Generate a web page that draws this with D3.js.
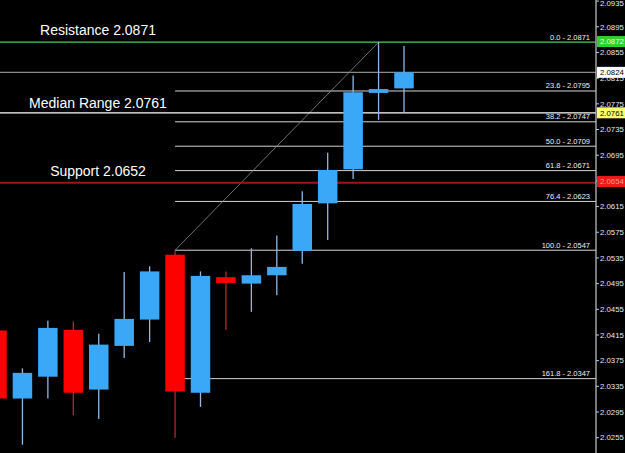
<!DOCTYPE html>
<html>
<head>
<meta charset="utf-8">
<script src="https://cdn.jsdelivr.net/npm/d3@7"></script>
<style>
  html, body { margin: 0; padding: 0; background: #000; }
  svg { display: block; }
  .lbl { font-family: Arial, "Liberation Sans", sans-serif; }
</style>
</head>
<body>
<svg id="chart" width="625" height="453"></svg>
<script>
const width = 625;
const height = 453;
const axis_x = 596; // right price axis

// candles, oldest first
const opens  = [2.0422, 2.0316, 2.0350, 2.0423, 2.0330, 2.0398, 2.0439, 2.0540, 2.0325, 2.0505, 2.0495, 2.0508, 2.0546, 2.0620, 2.0673, 2.0792, 2.0799];
const highs  = [2.0430, 2.0363, 2.0437, 2.0436, 2.0417, 2.0513, 2.0522, 2.0547, 2.0514, 2.0514, 2.0550, 2.0570, 2.0639, 2.0699, 2.0819, 2.0871, 2.0865];
const lows   = [2.0300, 2.0244, 2.0316, 2.0290, 2.0284, 2.0379, 2.0404, 2.0255, 2.0303, 2.0423, 2.0451, 2.0477, 2.0526, 2.0563, 2.0658, 2.0750, 2.0761];
const closes = [2.0316, 2.0356, 2.0426, 2.0325, 2.0400, 2.0440, 2.0514, 2.0327, 2.0507, 2.0496, 2.0508, 2.0521, 2.0619, 2.0672, 2.0793, 2.0798, 2.0824];

// fibonacci retracement, drawn from candle 7 to candle 15
const fibLevels = ["0.0", "23.6", "38.2", "50.0", "61.8", "76.4", "100.0", "161.8"];
const fibPrices = [2.0871, 2.0795, 2.0747, 2.0709, 2.0671, 2.0623, 2.0547, 2.0347];
const fibFrom = 7;
const fibTo = 15;

const priceTicks = [2.0935, 2.0895, 2.0855, 2.0815, 2.0775, 2.0735, 2.0695, 2.0655, 2.0615,
                    2.0575, 2.0535, 2.0495, 2.0455, 2.0415, 2.0375, 2.0335, 2.0295, 2.0255];

const levelNames  = ["Resistance", "Median Range", "Support"];
const levelPrices = [2.0871, 2.0761, 2.0652];

const bidPrice = 2.0824;
const tagPrices = [2.0872, 2.0824, 2.0761, 2.0654];
const tagFills  = ["#2fd12f", "#ffffff", "#ffff70", "#f01818"];
const tagTexts  = ["#eaffea", "#000000", "#000000", "#ff9a9a"];

const svg = d3.select("#chart");
svg.append("rect").attr("width", width).attr("height", height).attr("fill", "#000");

const x = d3.scaleLinear().domain([0, opens.length - 1]).range([-3, 404]);
const y = d3.scaleLinear().domain([2.0255, 2.0935]).range([437.7, 1.1]);
const bodyW = 19.5;

const plot = svg.append("g");

// bid line
plot.append("line")
    .attr("x1", 0).attr("x2", axis_x)
    .attr("y1", y(bidPrice)).attr("y2", y(bidPrice))
    .attr("stroke", "#8a8a8a").attr("stroke-width", 1.2);

// fib lines
const fibX0 = x(fibFrom);
fibPrices.forEach((p, i) => {
    if (i === 0) { return; }
    plot.append("line")
        .attr("x1", fibX0).attr("x2", axis_x)
        .attr("y1", y(p)).attr("y2", y(p))
        .attr("stroke", "#d4d4d4").attr("stroke-width", 1);
});

// trend line of the fib
plot.append("line")
    .attr("x1", fibX0).attr("y1", y(fibPrices[6]))
    .attr("x2", x(fibTo)).attr("y2", y(fibPrices[0]))
    .attr("stroke", "#8c8c8c").attr("stroke-width", 0.8);

// resistance / median / support lines
const levelColors = ["#4fcf4f", "#ffffff", "#a31414"];
const levelWidths = [1.3, 1.2, 2];
levelPrices.forEach((p, i) => {
    plot.append("line")
        .attr("x1", 0).attr("x2", axis_x)
        .attr("y1", y(p)).attr("y2", y(p))
        .attr("stroke", levelColors[i]).attr("stroke-width", levelWidths[i]);
});

// fib text
plot.selectAll(".fib-label")
    .data(fibLevels)
    .join("text")
    .classed("lbl", true)
    .attr("x", 590)
    .attr("y", (d, i) => y(fibPrices[i]) - 2.5)
    .attr("text-anchor", "end")
    .style("font-size", "7.5px")
    .style("fill", "#f0f0f0")
    .text((d, i) => d + " - " + fibPrices[i].toFixed(4));

// candles
const idx = d3.range(opens.length);
const up = i => closes[i] >= opens[i];

plot.selectAll(".wick")
    .data(idx)
    .join("line")
    .attr("x1", i => x(i)).attr("x2", i => x(i))
    .attr("y1", i => y(highs[i])).attr("y2", i => y(lows[i]))
    .attr("stroke", i => up(i) ? "#8fb8e6" : "#b22a2a")
    .attr("stroke-width", 1.3);

plot.selectAll(".body")
    .data(idx)
    .join("rect")
    .attr("x", i => x(i) - bodyW / 2)
    .attr("width", bodyW)
    .attr("y", i => y(Math.max(opens[i], closes[i])))
    .attr("height", i => Math.max(2, Math.abs(y(opens[i]) - y(closes[i]))))
    .attr("fill", i => up(i) ? "#3aa8f7" : "#ff0000");

// level captions
const captionY = [30.5, 103, 171];
const captionX = [98, 98, 98];
plot.selectAll(".caption")
    .data(levelNames)
    .join("text")
    .classed("lbl", true)
    .attr("x", (d, i) => captionX[i])
    .attr("y", (d, i) => captionY[i])
    .attr("dy", "0.35em")
    .attr("text-anchor", "middle")
    .style("font-size", "14px")
    .style("fill", "#ffffff")
    .text((d, i) => d + " " + levelPrices[i].toFixed(4));

// right axis
const axisG = svg.append("g");
axisG.append("rect")
    .attr("x", axis_x + 1).attr("y", 0)
    .attr("width", width - axis_x).attr("height", height)
    .attr("fill", "#000");
axisG.append("line")
    .attr("x1", axis_x).attr("x2", axis_x)
    .attr("y1", 0).attr("y2", height)
    .attr("stroke", "#c8c8c8").attr("stroke-width", 1.2);

axisG.selectAll(".tick-mark")
    .data(priceTicks)
    .join("line")
    .attr("x1", axis_x).attr("x2", axis_x + 3)
    .attr("y1", d => y(d)).attr("y2", d => y(d))
    .attr("stroke", "#c8c8c8");

axisG.selectAll(".tick-label")
    .data(priceTicks)
    .join("text")
    .classed("lbl", true)
    .attr("x", 600)
    .attr("y", d => Math.max(y(d), 3.5))
    .attr("dy", "0.35em")
    .style("font-size", "7.8px")
    .style("fill", "#e8e8e8")
    .text(d => d.toFixed(4));

// price tags
const tags = axisG.selectAll(".tag")
    .data(tagPrices)
    .join("g")
    .attr("transform", d => "translate(" + (axis_x + 1) + "," + y(d) + ")");

tags.append("rect")
    .attr("x", 0).attr("y", -5.5)
    .attr("width", width - axis_x).attr("height", 11)
    .attr("fill", (d, i) => tagFills[i]);

tags.append("text")
    .classed("lbl", true)
    .attr("x", 3)
    .attr("dy", "0.35em")
    .style("font-size", "7.8px")
    .style("fill", (d, i) => tagTexts[i])
    .text(d => d.toFixed(4));
</script>
</body>
</html>
